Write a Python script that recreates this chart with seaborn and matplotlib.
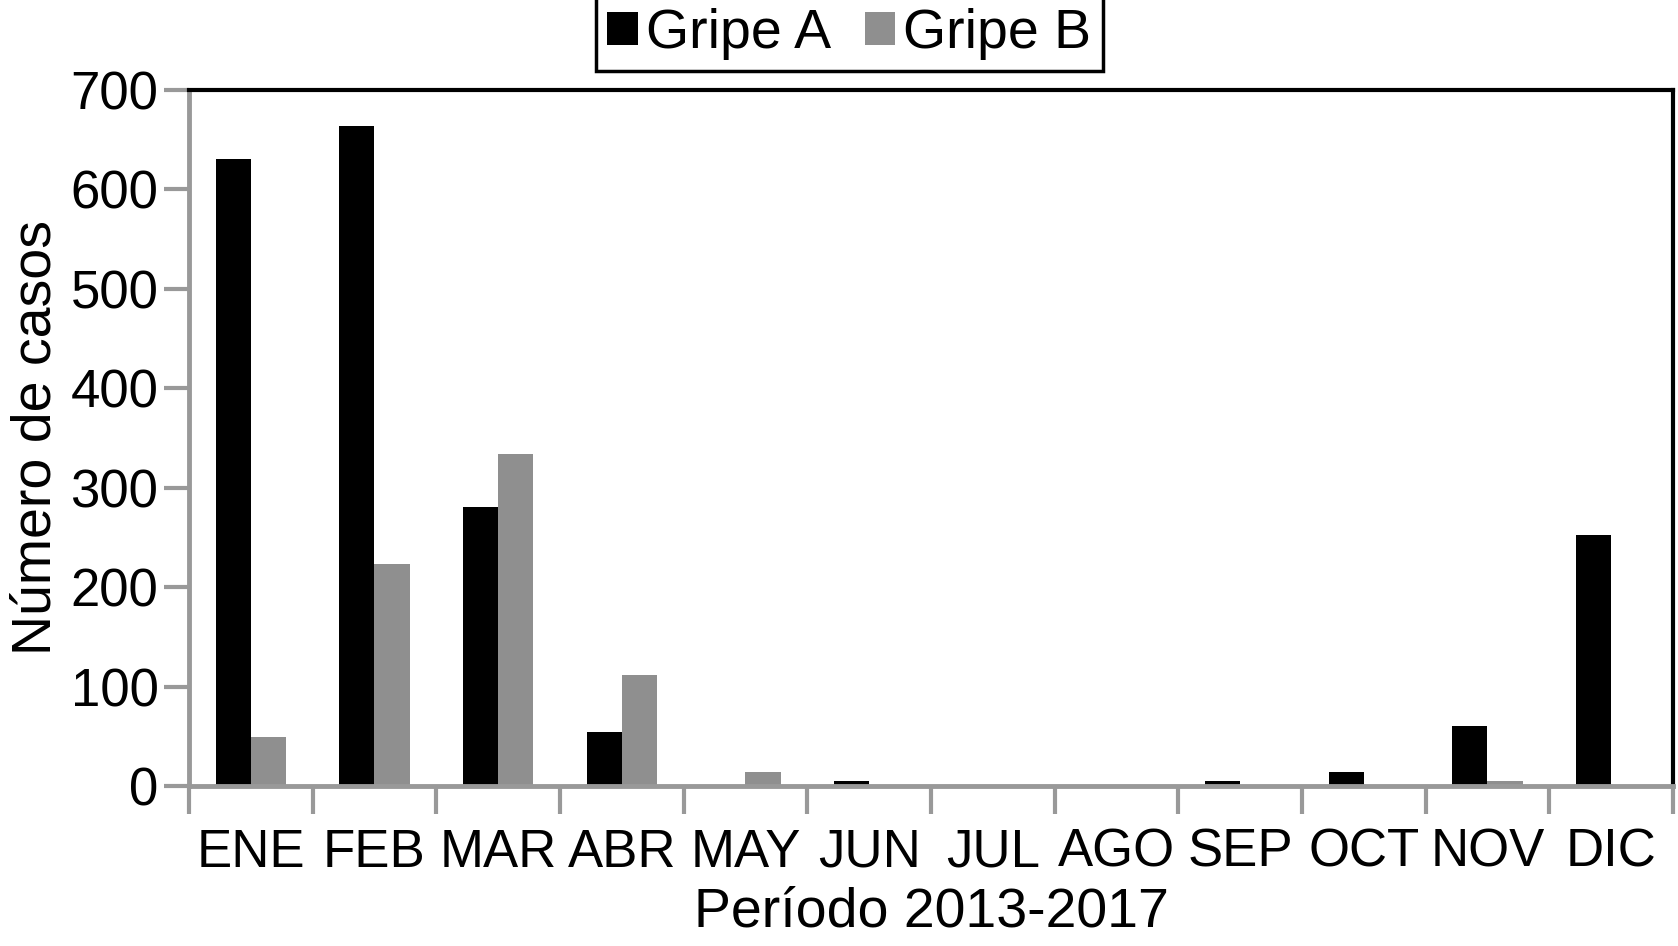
import matplotlib
matplotlib.use('Agg')
import matplotlib.pyplot as plt
import seaborn as sns
import pandas as pd

meses = ['ENE', 'FEB', 'MAR', 'ABR', 'MAY', 'JUN', 'JUL', 'AGO', 'SEP', 'OCT', 'NOV', 'DIC']
gripe_a = [630, 664, 281, 54, 0, 5, 0, 0, 5, 14, 60, 252]
gripe_b = [49, 223, 334, 112, 14, 0, 0, 0, 0, 0, 5, 0]
series = ['Gripe A', 'Gripe B']
colores = ['#000000', '#8f8f8f']

df = pd.DataFrame({
    'mes': meses * 2,
    'casos': gripe_a + gripe_b,
    'tipo': [series[0]] * len(meses) + [series[1]] * len(meses),
})

sns.set_style('white')
plt.rcParams['font.family'] = ['Liberation Sans', 'DejaVu Sans']
plt.rcParams['text.color'] = 'black'
plt.rcParams['axes.labelcolor'] = 'black'
plt.rcParams['xtick.labelcolor'] = 'black'
plt.rcParams['ytick.labelcolor'] = 'black'

fig = plt.figure(figsize=(16.78, 9.46), dpi=100)
ax = fig.add_axes([0.1126, 0.169, 0.8844, 0.736])

sns.barplot(data=df, x='mes', y='casos', hue='tipo', order=meses, hue_order=series,
            palette=colores, width=0.57, saturation=1, ax=ax, edgecolor='none')

ax.set_xlim(-0.5, 11.5)
ax.set_ylim(0, 700)
ax.set_yticks(range(0, 701, 100))
ax.set_xticks(range(len(meses)))
ax.set_xticklabels(meses)
ax.set_xticks([i - 0.5 for i in range(len(meses) + 1)], minor=True)

gris = '#999999'
ax.tick_params(axis='y', which='major', length=18, width=3, color=gris,
               labelsize=38, pad=4, left=True)
ax.tick_params(axis='x', which='major', length=0, labelsize=38, pad=30)
ax.tick_params(axis='x', which='minor', length=20, width=3, color=gris, bottom=True)

for lado in ['left', 'bottom']:
    ax.spines[lado].set_color(gris)
    ax.spines[lado].set_linewidth(3.5)
for lado in ['top', 'right']:
    ax.spines[lado].set_color('black')
    ax.spines[lado].set_linewidth(3)

ax.set_xlabel('Período 2013-2017', fontsize=40, labelpad=6)
ax.set_ylabel('Número de casos', fontsize=40, labelpad=6)

ax.legend(loc='upper center', bbox_to_anchor=(0.445, 1.133), ncol=2, fontsize=40,
          frameon=True, fancybox=False, edgecolor='black', framealpha=1,
          handlelength=0.55, handleheight=0.55, handletextpad=0.15,
          columnspacing=0.6, borderpad=0.2, borderaxespad=0)
ax.get_legend().get_frame().set_linewidth(2.5)

fig.savefig('out.png', dpi=100)
